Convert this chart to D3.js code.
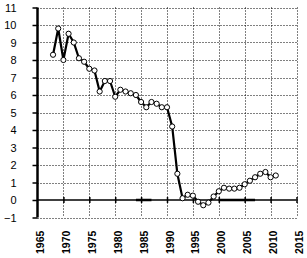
<!DOCTYPE html>
<html>
<head>
<meta charset="utf-8">
<script src="https://cdn.jsdelivr.net/npm/d3@7"></script>
<style>
  body { margin: 0; background: #fff; }
  svg { display: block; }
  text { font-family: "Liberation Sans", Arial, sans-serif; fill: #000; }
</style>
</head>
<body>
<div id="chart"></div>
<script>
// annual values
const years = [1968, 1969, 1970, 1971, 1972, 1973, 1974, 1975, 1976, 1977,
    1978, 1979, 1980, 1981, 1982, 1983, 1984, 1985, 1986, 1987,
    1988, 1989, 1990, 1991, 1992, 1993, 1994, 1995, 1996, 1997,
    1998, 1999, 2000, 2001, 2002, 2003, 2004, 2005, 2006, 2007,
    2008, 2009, 2010, 2011];
const values = [8.3, 9.8, 8.0, 9.5, 9.0, 8.1, 7.9, 7.5, 7.4, 6.2,
    6.8, 6.8, 5.9, 6.3, 6.2, 6.1, 6.0, 5.6, 5.3, 5.6,
    5.5, 5.3, 5.3, 4.2, 1.5, 0.1, 0.3, 0.25, -0.1, -0.3,
    -0.15, 0.2, 0.5, 0.7, 0.65, 0.65, 0.7, 0.9, 1.1, 1.3,
    1.5, 1.6, 1.3, 1.4];

// short stretches of a second series lying on the zero line
const zeroYears = [[1984, 1986, 1987], [2000, 2002, 2004, 2006, 2007]];

const xTicks = [1965, 1970, 1975, 1980, 1985, 1990, 1995, 2000, 2005, 2010, 2015];
const yTicks = [-1, 0, 1, 2, 3, 4, 5, 6, 7, 8, 9, 10, 11];

const width = 307, height = 258;

const svg = d3.select("#chart").append("svg")
    .attr("width", width)
    .attr("height", height);

const x = d3.scaleLinear().domain([1965, 2015]).range([37.5, 296.5]);
const y = d3.scaleLinear().domain([-1, 11]).range([217.5, 7.5]);

// dotted grid
svg.append("g")
    .selectAll("line")
    .data(yTicks.filter(d => d !== 0))
    .join("line")
    .attr("x1", x(1965)).attr("x2", x(2015))
    .attr("y1", d => Math.round(y(d)) + 0.5).attr("y2", d => Math.round(y(d)) + 0.5)
    .attr("stroke", "#000")
    .attr("stroke-width", 1)
    .attr("stroke-dasharray", "1,2");

svg.append("g")
    .selectAll("line")
    .data(xTicks.slice(1))
    .join("line")
    .attr("x1", d => Math.round(x(d)) + 0.5).attr("x2", d => Math.round(x(d)) + 0.5)
    .attr("y1", y(11)).attr("y2", y(-1))
    .attr("stroke", "#000")
    .attr("stroke-width", 1)
    .attr("stroke-dasharray", "1,2");

// zero axis with crossing ticks
const xAxis = svg.append("g")
    .attr("transform", "translate(0," + y(0) + ")")
    .call(d3.axisBottom(x).tickValues(xTicks.slice(1)).tickSize(3).tickFormat(""));
xAxis.select(".domain").remove();
xAxis.selectAll(".tick line").attr("y1", -3).attr("stroke-width", 1.5);
svg.append("line")
    .attr("x1", x(1965)).attr("x2", x(2015))
    .attr("y1", y(0)).attr("y2", y(0))
    .attr("stroke", "#000")
    .attr("stroke-width", 1.5);

// second series on zero
const line0 = d3.line().x(d => x(d)).y(() => y(0));
zeroYears.forEach(seg => {
    svg.append("path")
        .attr("d", line0(seg))
        .attr("fill", "none")
        .attr("stroke", "#000")
        .attr("stroke-width", 2.5);
});

// left axis
const yAxis = svg.append("g")
    .attr("transform", "translate(" + x(1965) + ",0)")
    .call(d3.axisLeft(y).tickValues(yTicks).tickSize(5).tickPadding(16).tickFormat(d3.format("d")));
yAxis.select(".domain").attr("stroke-width", 2.5).attr("d", "M0," + y(11) + "V" + y(-1));
yAxis.selectAll(".tick line").attr("stroke-width", 1.5);
yAxis.selectAll(".tick text")
    .style("font-size", "11px")
    .style("font-family", "Liberation Sans, Arial, sans-serif");

// x labels, rotated
svg.append("g")
    .selectAll("text")
    .data(xTicks)
    .join("text")
    .attr("transform", d => "translate(" + (x(d) + 6.5) + ",254) rotate(-90)")
    .style("font-size", "10.5px")
    .style("font-weight", "bold")
    .text(d => d);

// main series
const line = d3.line().x((d, i) => x(years[i])).y(d => y(d));
svg.append("path")
    .attr("d", line(values))
    .attr("fill", "none")
    .attr("stroke", "#000")
    .attr("stroke-width", 2.2);

svg.append("g")
    .selectAll("circle")
    .data(values)
    .join("circle")
    .attr("cx", (d, i) => x(years[i]))
    .attr("cy", d => y(d))
    .attr("r", 2.6)
    .attr("fill", "#fff")
    .attr("stroke", "#000")
    .attr("stroke-width", 1);
</script>
</body>
</html>
